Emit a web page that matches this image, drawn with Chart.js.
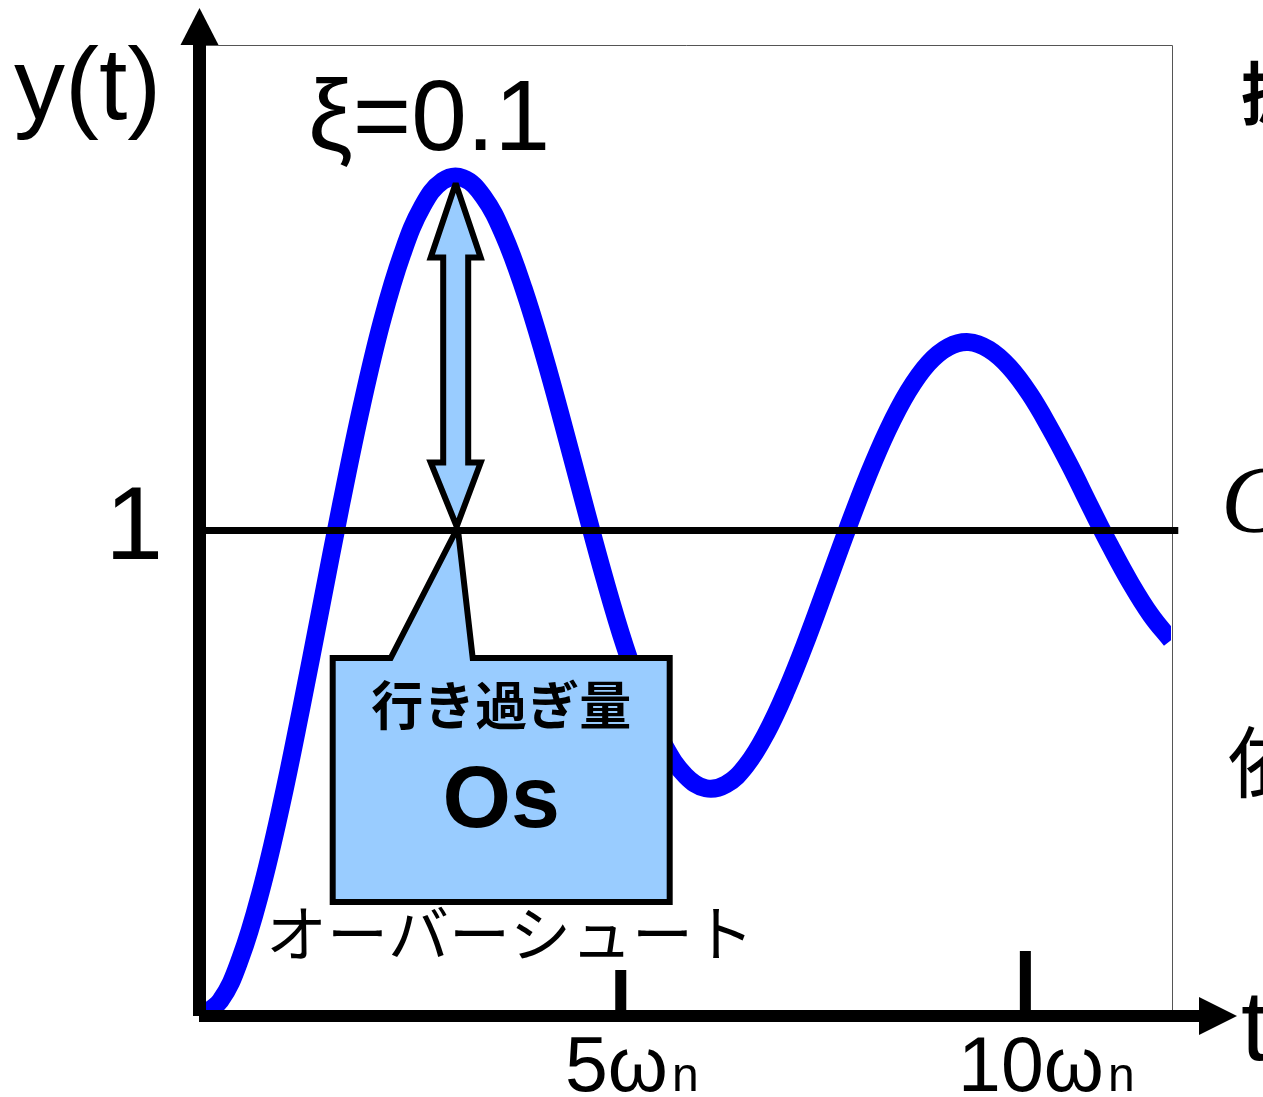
<!DOCTYPE html>
<html>
<head>
<meta charset="utf-8">
<script src="https://cdn.jsdelivr.net/npm/chart.js@4/dist/chart.umd.min.js"></script>
<style>
  html, body { margin: 0; padding: 0; background: #ffffff; }
  #wrap { width: 1263px; height: 1097px; position: relative; }
  canvas { display: block; }
</style>
</head>
<body>
<div id="wrap"><canvas id="c" width="1263" height="1097"></canvas></div>
<script>
// Step response y(t) of a second-order system, damping ratio 0.1
const timeValues = [0, 0.25, 0.5, 0.75, 1, 1.25, 1.5, 1.75, 2, 2.25, 2.5, 2.75, 3, 3.25, 3.5, 3.75,
  4, 4.25, 4.5, 4.75, 5, 5.25, 5.5, 5.75, 6, 6.25, 6.5, 6.75, 7, 7.25, 7.5, 7.75,
  8, 8.25, 8.5, 8.75, 9, 9.25, 9.5, 9.75, 10, 10.25, 10.5, 10.75, 11, 11.25, 11.5, 11.75, 12];
const responseValues = [0, 0.031, 0.119, 0.256, 0.431, 0.633, 0.846, 1.059, 1.258, 1.432, 1.570, 1.668,
  1.720, 1.726, 1.688, 1.610, 1.498, 1.362, 1.211, 1.054, 0.901, 0.762, 0.645, 0.554,
  0.495, 0.469, 0.477, 0.516, 0.583, 0.672, 0.776, 0.889, 1.003, 1.111, 1.207, 1.286,
  1.344, 1.378, 1.388, 1.373, 1.337, 1.282, 1.212, 1.134, 1.050, 0.968, 0.892, 0.826, 0.774];

// Final value (unit step) and where the reference line ends
const referenceLevel = 1;
const referenceSpan = [0, 12.09];

// First overshoot peak (time, value)
const overshootPeak = { t: 3.16, y: 1.729 };

// Axis ticks
const xTickValues = [5.2, 10.2];
const xTickLabels = [['5', 'ω', 'n'], ['10', 'ω', 'n']];
const yTickValues = [1];
const yTickLabels = ['1'];

// Texts
const yAxisTitle = 'y(t)';
const xAxisTitle = 't';
const dampingLabel = 'ξ=0.1';
const calloutTitle = '行き過ぎ量';
const calloutSymbol = 'Os';
const calloutCaption = 'オーバーシュート';
const sideTexts = ['振', 'C', '依'];

const SANS = '"Liberation Sans", Arial, sans-serif';
const CJK = '"Noto Sans CJK JP", "Noto Sans", sans-serif';
const FILL_BLUE = '#99CCFF';

const decor = {
  id: 'decor',
  beforeDatasetsDraw(chart) {
    const { ctx, chartArea: a } = chart;
    ctx.save();
    ctx.strokeStyle = '#555555';
    ctx.lineWidth = 1;
    ctx.beginPath();
    ctx.moveTo(a.left, a.top + 0.5);
    ctx.lineTo(a.right + 1.5, a.top + 0.5);
    ctx.lineTo(a.right + 1.5, a.bottom);
    ctx.stroke();
    ctx.restore();
  },
  afterDatasetsDraw(chart) {
    const { ctx, chartArea: a } = chart;
    const xs = chart.scales.x, ys = chart.scales.y;
    const x0 = xs.getPixelForValue(0);
    const y0 = ys.getPixelForValue(0);
    ctx.save();
    ctx.fillStyle = '#000000';

    // vertical axis with arrow
    ctx.fillRect(x0 - 7, a.top, 13, y0 - a.top);
    ctx.beginPath();
    ctx.moveTo(x0 - 19.5, a.top);
    ctx.lineTo(x0 + 18.5, a.top);
    ctx.lineTo(x0 - 0.5, 8);
    ctx.closePath();
    ctx.fill();

    // horizontal axis with arrow
    ctx.fillRect(x0 - 1, y0 - 6, 1000, 12);
    ctx.beginPath();
    ctx.moveTo(x0 + 999, y0 - 19);
    ctx.lineTo(x0 + 999, y0 + 19);
    ctx.lineTo(x0 + 1037, y0);
    ctx.closePath();
    ctx.fill();

    // x ticks and their labels
    const tickLengths = [46, 65];
    const labelShift = [11, 21];
    xTickValues.forEach((v, i) => {
      const px = xs.getPixelForValue(v);
      ctx.fillRect(px - 5.5, y0 - tickLengths[i], 11, tickLengths[i]);
      const [main, omega, sub] = xTickLabels[i];
      const bigFont = '77px ' + SANS, smallFont = '48px ' + SANS;
      ctx.font = bigFont;
      const wMain = ctx.measureText(main + omega).width;
      ctx.font = smallFont;
      const wSub = ctx.measureText(sub).width;
      const left = px + labelShift[i] - (wMain + 4 + wSub) / 2;
      ctx.textBaseline = 'alphabetic';
      ctx.textAlign = 'left';
      ctx.font = bigFont;
      ctx.fillText(main + omega, left, 1091);
      ctx.font = smallFont;
      ctx.fillText(sub, left + wMain + 4, 1091);
    });

    // y tick labels
    ctx.font = '104px ' + SANS;
    ctx.textAlign = 'right';
    yTickValues.forEach((v, i) => {
      const py = ys.getPixelForValue(v);
      ctx.fillText(yTickLabels[i], 163, py + 28);
    });

    // axis titles
    ctx.textAlign = 'left';
    ctx.font = '102px ' + SANS;
    ctx.fillText(yAxisTitle, 14, 119);
    ctx.font = '100px ' + SANS;
    ctx.fillText(xAxisTitle, 1241, 1060);

    // damping ratio label
    ctx.font = '100px ' + SANS;
    ctx.fillText(dampingLabel, 308, 150);

    // overshoot callout
    const tip = { x: xs.getPixelForValue(overshootPeak.t) + 2, y: ys.getPixelForValue(referenceLevel) - 3 };
    const bx0 = tip.x - 125, bx1 = tip.x + 212, by0 = 658, by1 = 902;
    ctx.beginPath();
    ctx.moveTo(bx0, by0);
    ctx.lineTo(tip.x - 67, by0);
    ctx.lineTo(tip.x, tip.y);
    ctx.lineTo(tip.x + 15, by0);
    ctx.lineTo(bx1, by0);
    ctx.lineTo(bx1, by1);
    ctx.lineTo(bx0, by1);
    ctx.closePath();
    ctx.fillStyle = FILL_BLUE;
    ctx.fill();
    ctx.lineWidth = 6;
    ctx.lineJoin = 'miter';
    ctx.miterLimit = 3;
    ctx.strokeStyle = '#000000';
    ctx.stroke();

    // double-headed arrow from the peak down to the final value
    const ax = xs.getPixelForValue(overshootPeak.t);
    const aTop = ys.getPixelForValue(overshootPeak.y) + 7;
    const aBot = ys.getPixelForValue(referenceLevel) - 4;
    const head = 25, shaft = 12.5;
    ctx.beginPath();
    ctx.moveTo(ax, aTop);
    ctx.lineTo(ax + head, aTop + 74);
    ctx.lineTo(ax + shaft, aTop + 74);
    ctx.lineTo(ax + shaft, aBot - 64);
    ctx.lineTo(ax + head, aBot - 64);
    ctx.lineTo(ax + 1, aBot);
    ctx.lineTo(ax - head, aBot - 64);
    ctx.lineTo(ax - shaft, aBot - 64);
    ctx.lineTo(ax - shaft, aTop + 74);
    ctx.lineTo(ax - head, aTop + 74);
    ctx.closePath();
    ctx.fillStyle = FILL_BLUE;
    ctx.fill();
    ctx.lineWidth = 6;
    ctx.stroke();

    // callout text
    const cx = (bx0 + bx1) / 2;
    ctx.fillStyle = '#000000';
    ctx.textAlign = 'center';
    ctx.font = 'bold 52px ' + CJK;
    ctx.fillText(calloutTitle, cx, 725);
    ctx.font = 'bold 88px ' + SANS;
    ctx.fillText(calloutSymbol, cx, 827);
    ctx.font = '61px ' + CJK;
    ctx.fillText(calloutCaption, 510, 957);

    // text running off the right edge
    ctx.textAlign = 'left';
    ctx.font = 'bold 68px ' + CJK;
    ctx.fillText(sideTexts[0], 1241, 119);
    ctx.font = 'italic 96px "Liberation Serif", serif';
    ctx.fillText(sideTexts[1], 1221, 532);
    ctx.font = '78px ' + CJK;
    ctx.fillText(sideTexts[2], 1228, 792);

    ctx.restore();
  }
};

new Chart(document.getElementById('c'), {
  type: 'line',
  data: {
    datasets: [
      {
        label: 'final value',
        data: referenceSpan.map(t => ({ x: t, y: referenceLevel })),
        borderColor: '#000000',
        borderWidth: 7,
        pointRadius: 0,
        clip: false,
        order: 0
      },
      {
        label: 'y(t)',
        data: timeValues.map((t, i) => ({ x: t, y: responseValues[i] })),
        borderColor: '#0000FF',
        borderWidth: 18,
        pointRadius: 0,
        tension: 0.4,
        fill: false,
        order: 1
      }
    ]
  },
  options: {
    responsive: false,
    animation: false,
    devicePixelRatio: 1,
    layout: { padding: { left: 200, top: 45, right: 92, bottom: 81 } },
    scales: {
      x: { type: 'linear', min: 0, max: 12, display: false },
      y: { type: 'linear', min: 0, max: 2, display: false }
    },
    plugins: { legend: { display: false }, tooltip: { enabled: false } }
  },
  plugins: [decor]
});
</script>
</body>
</html>
